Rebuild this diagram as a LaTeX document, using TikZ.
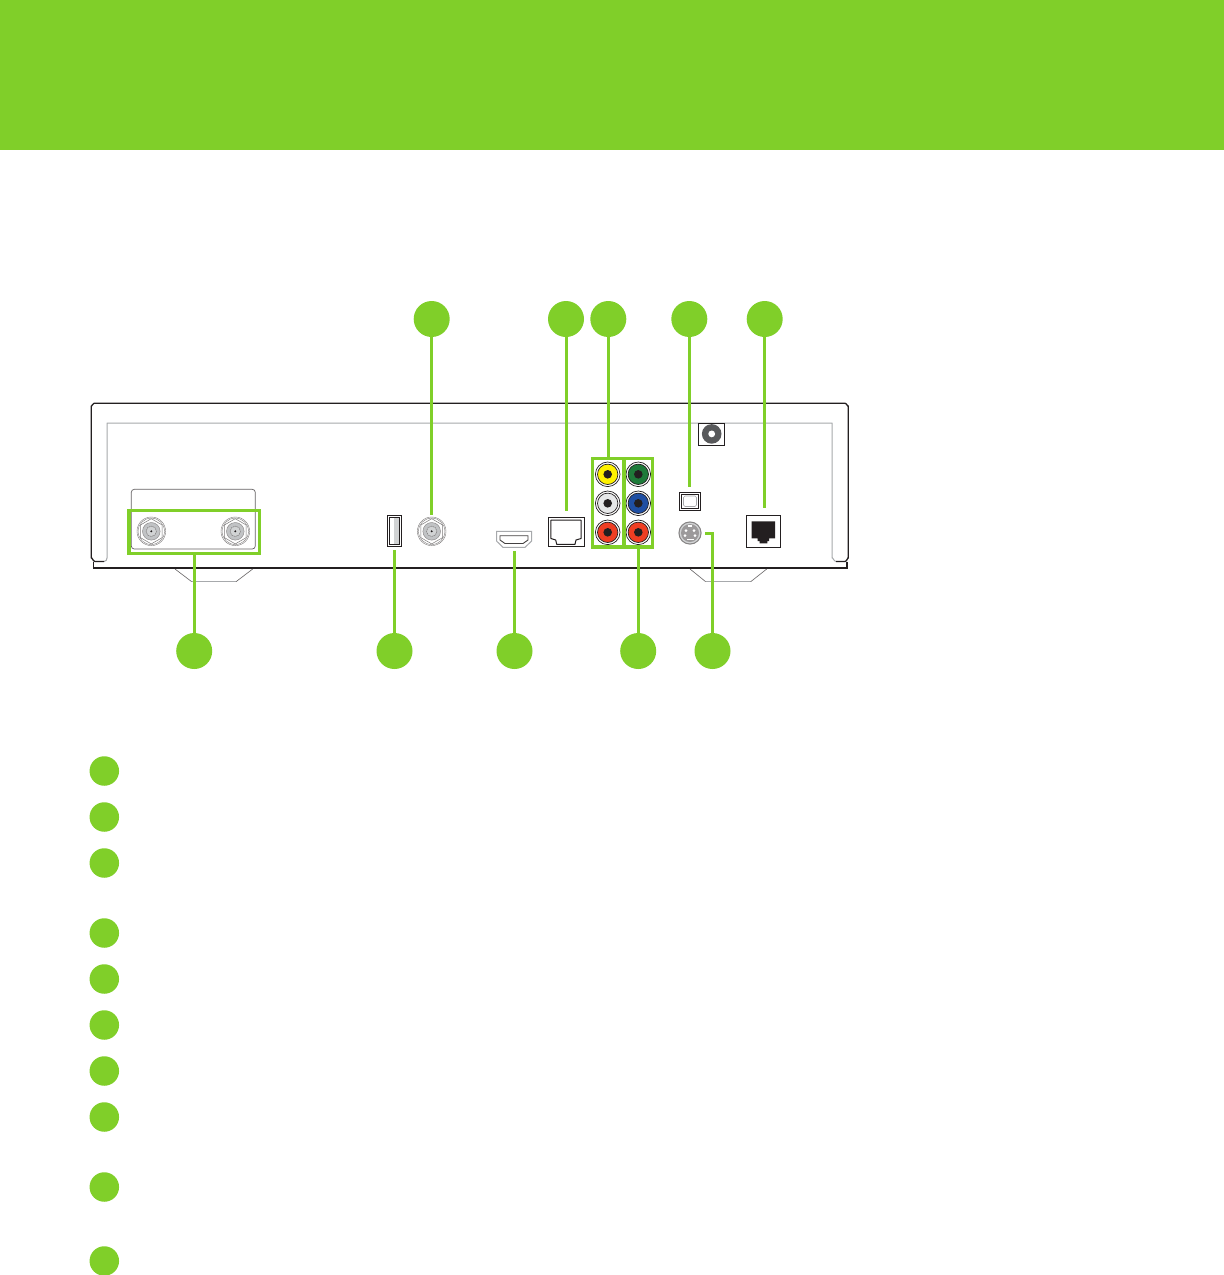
\documentclass[tikz,border=0pt]{standalone}
\definecolor{brand}{HTML}{80CF29}
\definecolor{ink}{HTML}{231F20}
\definecolor{midgray}{HTML}{A7A9AC}
\definecolor{lightgray}{HTML}{D1D3D4}
\definecolor{jackyellow}{HTML}{FFF200}
\definecolor{jackwhite}{HTML}{E6E7E8}
\definecolor{jackred}{HTML}{EF3E23}
\definecolor{jackgreen}{HTML}{1E7B3A}
\definecolor{jackblue}{HTML}{1F4FA3}
\definecolor{powergray}{HTML}{58595B}
\tikzset{
  callout/.style={circle,fill=brand,draw=none,minimum size=36pt,inner sep=0pt,outer sep=0pt},
  bullet/.style={circle,fill=brand,draw=none,minimum size=29.5pt,inner sep=0pt,outer sep=0pt},
  hlbox/.style={rectangle,draw=brand,line width=3.3pt,fill=none,inner sep=0pt,outer sep=0pt},
  leader/.style={draw=brand,line width=3pt},
  body/.style={draw=ink,line width=1.3pt},
  inner/.style={draw=midgray,line width=1pt},
  thin/.style={draw=ink,line width=0.8pt},
  coaxjack/.pic={
    \draw[draw=ink!60,line width=0.4pt,fill=white] (0,0) circle (14.3);
    \draw[draw=ink!60,line width=0.4pt] (0,0) circle (13.2);
    \draw[draw=ink!60,line width=0.5pt,fill=white] (30:12.6)--(90:12.6)--(150:12.6)--(210:12.6)--(270:12.6)--(330:12.6)--cycle;
    \draw[draw=ink!50,line width=0.5pt,fill=midgray!70] (0,0) circle (8.8);
    \draw[draw=ink!60,line width=0.5pt,dash pattern=on 1.5pt off 0.6pt,fill=lightgray] (0,0) circle (5.2);
    \fill[ink] (0,0) circle (1.1);
  }
}
\newcommand{\rcajack}[3]{%
  \draw[draw=ink,line width=0.7pt,fill=white] (#1,#2) circle (12.3);
  \draw[draw=ink,line width=0.7pt,fill=#3] (#1,#2) circle (10.2);
  \fill[ink] (#1,#2) circle (4.3);
}
\begin{document}
\begin{tikzpicture}[x=1pt,y=-1pt]
\useasboundingbox (0,0) rectangle (1224,1275);
\fill[white] (0,0) rectangle (1224,1275);
\fill[brand] (0,0) rectangle (1224,150);

% box body
\draw[inner,line join=round] (104,561.5) to[out=0,in=270] (107,558) -- (107,423) -- (832,423) -- (832,558) to[out=90,in=180] (836,561.5);
\draw[body,line join=round] (104,561.5) -- (95,561.5) to[out=180,in=90] (91.3,558) -- (91.3,406) to[out=270,in=180] (94,403.3) -- (845,403.3) to[out=0,in=270] (848.3,406) -- (848.3,558) to[out=90,in=0] (845,561.5) -- (836,561.5);
\draw[ink,line width=1pt] (93.3,561.5) -- (93.3,568);
\draw[ink,line width=1.4pt] (847,561.5) -- (847,568);
\draw[ink,line width=2pt] (92.8,568) -- (847.7,568);
% feet
\draw[draw=midgray,line width=0.8pt] (191.7,581.7) -- (236,581.7);
\draw[draw=ink!70,line width=0.6pt] (175,569) -- (191.7,581.7) (236,581.7) -- (252.7,569);
\draw[draw=midgray,line width=0.8pt] (705.7,581.7) -- (750.7,581.7);
\draw[draw=ink!70,line width=0.6pt] (690,569) -- (705.7,581.7) (750.7,581.7) -- (766.7,569);

% coax panel
\draw[draw=ink!70,line width=0.7pt,rounded corners=3pt] (131.3,489.3) rectangle (255.3,549);
\pic at (151.3,531.3) {coaxjack};
\pic at (235.3,531.3) {coaxjack};
\pic at (431.7,531.3) {coaxjack};

% usb
\draw[thin,line width=1pt,fill=white] (387.3,515.3) rectangle (401.7,546.7);
\fill[lightgray] (394,518) rectangle (399.6,544);
\draw[draw=ink,line width=0.6pt] (389.4,517.6) rectangle (399.6,544.4);

% hdmi
\draw[draw=midgray,line width=1pt,fill=white] (496.5,531.3) -- (531.7,531.3) -- (531.7,541) -- (525,547.3) -- (503,547.3) -- (496.5,541) -- cycle;
\draw[draw=ink!85,line width=0.9pt] (500,535.7) -- (528,535.7) -- (528,540) -- (523,543.5) -- (505,543.5) -- (500,540) -- cycle;

% phone
\draw[thin,line width=1pt,fill=white] (548.3,517.3) rectangle (584.7,546.7);
\draw[thin,line width=1pt,line join=round] (550.9,520.2) -- (581,520.2) -- (581,538.5) -- (576,540) -- (575,544.3) -- (556.7,544.3) -- (555.7,540) -- (550.9,538.5) -- cycle;

% rca
\rcajack{607.7}{474.3}{jackyellow}
\rcajack{607.7}{503.3}{jackwhite}
\rcajack{607.7}{532.3}{jackred}
\rcajack{638.3}{474.3}{jackgreen}
\rcajack{638.3}{503.3}{jackblue}
\rcajack{638.3}{532.3}{jackred}

% power
\draw[thin,fill=white] (698.7,423.3) rectangle (724.7,445.3);
\fill[powergray] (711.7,433.9) circle (9.8);
\fill[white] (711.7,433.9) circle (3.4);

% optical
\draw[thin,fill=white] (679.3,492.3) rectangle (700.7,510.3);
\draw[thin] (681.6,494.6) rectangle (698.4,508);
\draw[draw=midgray,line width=0.6pt,rounded corners=1.5pt] (683.5,496) rectangle (696.5,506.5);

% s-video
\fill[ink!55] (690,533) circle (11.6);
\fill[lightgray] (690,533) circle (10.4);
\fill[ink!45] (690,533) circle (9);
\fill[white] (686,530.5) circle (1.5) (694,530.5) circle (1.5) (685,535.5) circle (1.5) (695,535.5) circle (1.5);
\fill[white] (686.5,538.5) rectangle (693.5,540.3);
\fill[white] (688,525.2) rectangle (692,527);

% ethernet
\draw[thin,line width=1pt,fill=white] (746.3,515.3) rectangle (780.7,547.3);
\fill[ink] (751.7,521.3) -- (775,521.3) -- (775,538.3) -- (769,538.3) -- (769,541) -- (767.3,541) -- (767.3,543.3) -- (759.7,543.3) -- (759.7,541) -- (757.7,541) -- (757.7,538.3) -- (751.7,538.3) -- cycle;

% highlight boxes
\node[hlbox,minimum width=130.4pt,minimum height=42.7pt] (coaxbox) at (194.2,532) {};
\node[hlbox,minimum width=31.3pt,minimum height=88.7pt] (avbox) at (608.3,502.7) {};
\node[hlbox,minimum width=28.3pt,minimum height=88.7pt] (compbox) at (638.2,502.7) {};

% port coordinates
\coordinate (aerial) at (431.7,515);
\coordinate (phone) at (566,510.7);
\coordinate (optical) at (689.3,486.7);
\coordinate (lan) at (764.7,507.7);
\coordinate (usb) at (394.5,550);
\coordinate (hdmi) at (514.5,551);
\coordinate (svideo) at (705,533.5);

% callouts
\node[callout] (ta) at (431.7,319) {};
\node[callout] (tb) at (566,319) {};
\node[callout] (tc) at (608.3,319) {};
\node[callout] (td) at (689.3,319) {};
\node[callout] (te) at (764.7,319) {};
\node[callout] (ba) at (194.2,651) {};
\node[callout] (bb) at (394.5,651) {};
\node[callout] (bc) at (514.5,651) {};
\node[callout] (bd) at (638.2,651) {};
\node[callout] (be) at (712.5,651) {};

\draw[leader] (ta) -- (aerial);
\draw[leader] (tb) -- (phone);
\draw[leader] (tc) -- (avbox.north);
\draw[leader] (td) -- (optical);
\draw[leader] (te) -- (lan);
\draw[leader] (ba) -- (coaxbox.south);
\draw[leader] (bb) -- (usb);
\draw[leader] (bc) -- (hdmi);
\draw[leader] (bd) -- (compbox.south);
\draw[leader] (svideo) -| (be);

% list bullets
\node[bullet] (l1) at (104.3,771) {};
\node[bullet] (l2) at (104.3,817) {};
\node[bullet] (l3) at (104.3,863) {};
\node[bullet] (l4) at (104.3,933) {};
\node[bullet] (l5) at (104.3,979) {};
\node[bullet] (l6) at (104.3,1025) {};
\node[bullet] (l7) at (104.3,1071) {};
\node[bullet] (l8) at (104.3,1117) {};
\node[bullet] (l9) at (104.3,1187) {};
\node[bullet] (l10) at (104.3,1261) {};
\end{tikzpicture}
\end{document}
